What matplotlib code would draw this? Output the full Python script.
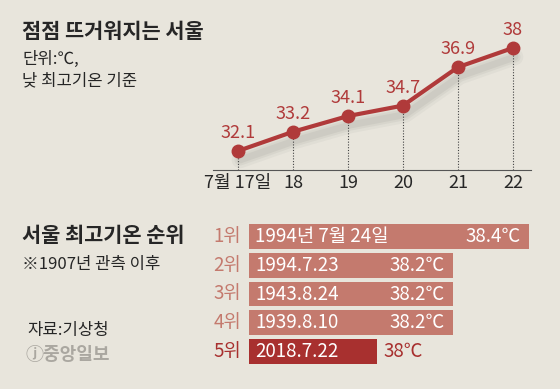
import numpy as np
import matplotlib
matplotlib.use('Agg')
import matplotlib.pyplot as plt
from matplotlib.transforms import offset_copy

plt.rcParams['font.family'] = ['Noto Sans CJK KR', 'DejaVu Sans']
plt.rcParams['font.weight'] = 'light'

# line chart data
days = ['7월 17일', '18', '19', '20', '21', '22']
temps = [32.1, 33.2, 34.1, 34.7, 36.9, 38]
temp_labels = ['32.1', '33.2', '34.1', '34.7', '36.9', '38']

# ranking data
ranks = ['1위', '2위', '3위', '4위', '5위']
dates = ['1994년 7월 24일', '1994.7.23', '1943.8.24', '1939.8.10', '2018.7.22']
records = [38.4, 38.2, 38.2, 38.2, 38.0]
record_labels = ['38.4℃', '38.2℃', '38.2℃', '38.2℃', '38℃']

W, H = 560, 389
BG = '#e8e5dc'
RED = '#b03a3a'
SALMON = '#c47a6e'
DARKBAR = '#a8302f'
TXT = '#262626'


def px_axes(fig, x0, y0, x1, y1):
    return fig.add_axes([x0 / W, (H - y1) / H, (x1 - x0) / W, (y1 - y0) / H])


fig = plt.figure(figsize=(W / 100, H / 100), dpi=100, facecolor=BG)

# ---- line chart ----
ax = px_axes(fig, 213, 20, 531, 170)
ax.set_facecolor('none')
x = np.arange(len(temps))
ybot = 31.01
ax.set_xlim(-0.4545, 5.327)
ax.set_ylim(ybot, 39.6)

# soft shadow under the line
for lw, a in [(12, 0.04), (8, 0.05), (5, 0.06)]:
    tr = offset_copy(ax.transData, fig=fig, x=2, y=-9, units='dots')
    ax.plot(x, temps, color='#333333', lw=lw, alpha=a, transform=tr,
            solid_capstyle='round', zorder=1)

ax.vlines(x, ybot, temps, colors='#444444', lw=0.8, linestyles=(0, (1, 1.5)), zorder=2)
ax.plot(x, temps, color=RED, lw=3, marker='o', ms=9, zorder=3)
for xi, t, lab in zip(x, temps, temp_labels):
    ax.annotate(lab, (xi, t), xytext=(0, 13), textcoords='offset points',
                ha='center', va='center', fontsize=13, color=RED)

ax.set_xticks(x)
ax.set_xticklabels(days, fontsize=13, color=TXT)
ax.tick_params(axis='x', length=0, pad=3)
ax.set_yticks([])
for s in ['top', 'right', 'left']:
    ax.spines[s].set_visible(False)
ax.spines['bottom'].set_color('#555555')
ax.spines['bottom'].set_linewidth(0.8)

# ---- ranking bars ----
bx = px_axes(fig, 249, 222.5, 540, 365.5)
bx.set_facecolor('none')
base = 37.663
bx.set_xlim(base, 38.429)
bx.set_ylim(4.5, -0.5)
pos = np.arange(len(records))
colors = [SALMON] * 4 + [DARKBAR]
vals = np.array(records)
bx.barh(pos, vals - base, left=base, height=0.87, color=colors)
bx.axis('off')

for i, (r, d, v, lab) in enumerate(zip(ranks, dates, vals, record_labels)):
    c = DARKBAR if i == 4 else SALMON
    bx.annotate(r, (base, i), xytext=(-8, 0), textcoords='offset pixels',
                ha='right', va='center', fontsize=13.5, color=c, annotation_clip=False)
    bx.annotate(d, (base, i), xytext=(6, 0), textcoords='offset pixels',
                ha='left', va='center', fontsize=13.5, color='white')
    if i == 4:
        bx.annotate(lab, (v, i), xytext=(6, 0), textcoords='offset pixels',
                    ha='left', va='center', fontsize=13.5, color=DARKBAR)
    else:
        bx.annotate(lab, (v, i), xytext=(-8, 0), textcoords='offset pixels',
                    ha='right', va='center', fontsize=13.5, color='white')

# ---- left texts ----
fig.text(22 / W, 1 - 31 / H, '점점 뜨거워지는 서울', fontsize=15, fontweight='bold',
         color=TXT, va='center')
fig.text(22 / W, 1 - 59 / H, '단위:℃,', fontsize=12, color=TXT, va='center')
fig.text(22 / W, 1 - 81 / H, '낮 최고기온 기준', fontsize=12, color=TXT, va='center')
fig.text(22 / W, 1 - 236 / H, '서울 최고기온 순위', fontsize=15, fontweight='bold',
         color=TXT, va='center')
fig.text(22 / W, 1 - 264 / H, '※1907년 관측 이후', fontsize=12, color=TXT, va='center')
fig.text(27 / W, 1 - 331 / H, '자료:기상청', fontsize=12, color=TXT, va='center')
fig.text(26 / W, 1 - 355 / H, 'ⓙ중앙일보', fontsize=13, fontweight='bold',
         color='#aaa7a0', va='center')

fig.savefig('out.png', dpi=100, facecolor=BG)
